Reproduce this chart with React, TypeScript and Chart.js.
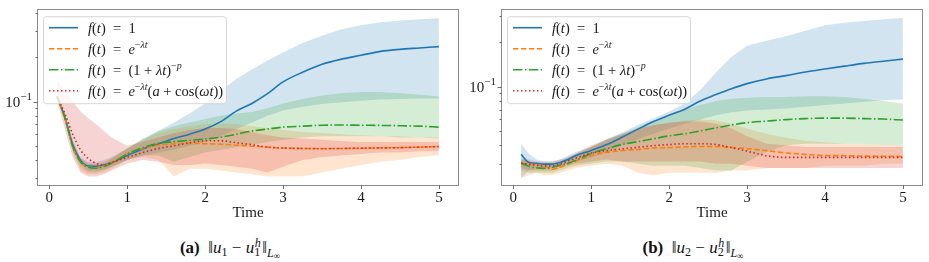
import React, { useEffect, useRef } from "react";
import { Chart, registerables } from "chart.js";

Chart.register(...registerables);

// Sample times shared by every series (both panels)
const TIMES = [0.1, 0.2, 0.3, 0.4, 0.5, 0.6, 0.7, 0.8, 1.0, 1.2, 1.4, 1.6, 1.8, 2.0, 2.2, 2.4, 2.6, 2.8, 3.0, 3.25, 3.5, 3.75, 4.0, 4.25, 4.5, 4.75, 5.0];
const X_TICKS = [0, 1, 2, 3, 4, 5];
const Y_TICKS = [0.03, 0.04, 0.05, 0.06, 0.07, 0.08, 0.09, 0.1, 0.2, 0.3, 0.4];

// (a) ||u1 - u1^h||_Linf : mean and band (lo / hi) per forcing f(t)
const U1_CONST = [0.108, 0.078, 0.051, 0.040, 0.0365, 0.0363, 0.037, 0.0385, 0.043, 0.0475, 0.0515, 0.056, 0.060, 0.065, 0.073, 0.086, 0.097, 0.113, 0.136, 0.158, 0.179, 0.194, 0.206, 0.219, 0.226, 0.231, 0.236];
const U1_CONST_LO = [0.104, 0.074, 0.047, 0.038, 0.034, 0.034, 0.0345, 0.036, 0.040, 0.043, 0.045, 0.047, 0.050, 0.053, 0.058, 0.065, 0.072, 0.080, 0.087, 0.092, 0.096, 0.099, 0.101, 0.103, 0.104, 0.105, 0.105];
const U1_CONST_HI = [0.112, 0.082, 0.055, 0.042, 0.039, 0.039, 0.040, 0.042, 0.048, 0.055, 0.063, 0.072, 0.083, 0.097, 0.118, 0.142, 0.165, 0.19, 0.215, 0.25, 0.28, 0.31, 0.33, 0.345, 0.355, 0.362, 0.368];

const U1_EXP = [0.108, 0.077, 0.049, 0.039, 0.0358, 0.0355, 0.0365, 0.0385, 0.0443, 0.048, 0.0505, 0.0515, 0.052, 0.0517, 0.0513, 0.0505, 0.0497, 0.049, 0.0483, 0.048, 0.048, 0.048, 0.0482, 0.0484, 0.0486, 0.049, 0.0494];
const U1_EXP_LO = [0.104, 0.073, 0.045, 0.034, 0.032, 0.032, 0.033, 0.035, 0.040, 0.042, 0.040, 0.031, 0.035, 0.035, 0.034, 0.033, 0.032, 0.031, 0.031, 0.031, 0.033, 0.035, 0.037, 0.039, 0.040, 0.042, 0.043];
const U1_EXP_HI = [0.112, 0.081, 0.053, 0.041, 0.038, 0.038, 0.039, 0.041, 0.048, 0.055, 0.061, 0.065, 0.068, 0.070, 0.071, 0.070, 0.068, 0.066, 0.064, 0.062, 0.061, 0.060, 0.059, 0.058, 0.058, 0.057, 0.057];

const U1_POLY = [0.108, 0.078, 0.050, 0.039, 0.0358, 0.0352, 0.0362, 0.038, 0.044, 0.0486, 0.052, 0.0533, 0.0545, 0.0556, 0.0572, 0.060, 0.063, 0.065, 0.067, 0.068, 0.069, 0.0692, 0.069, 0.0688, 0.0685, 0.068, 0.067];
const U1_POLY_LO = [0.104, 0.074, 0.046, 0.036, 0.033, 0.033, 0.034, 0.036, 0.040, 0.043, 0.043, 0.039, 0.042, 0.045, 0.047, 0.049, 0.051, 0.053, 0.055, 0.057, 0.058, 0.058, 0.058, 0.058, 0.057, 0.057, 0.056];
const U1_POLY_HI = [0.112, 0.082, 0.054, 0.041, 0.038, 0.037, 0.038, 0.041, 0.048, 0.056, 0.063, 0.068, 0.072, 0.076, 0.080, 0.083, 0.085, 0.090, 0.097, 0.104, 0.110, 0.114, 0.116, 0.116, 0.114, 0.111, 0.108];

const U1_OSC = [0.108, 0.083, 0.060, 0.047, 0.041, 0.038, 0.0372, 0.0385, 0.0417, 0.045, 0.048, 0.050, 0.0525, 0.0541, 0.0541, 0.0525, 0.0509, 0.049, 0.0483, 0.048, 0.0478, 0.048, 0.0482, 0.0484, 0.0486, 0.049, 0.0494];
const U1_OSC_LO = [0.100, 0.065, 0.042, 0.033, 0.031, 0.031, 0.032, 0.034, 0.038, 0.040, 0.039, 0.037, 0.037, 0.038, 0.037, 0.036, 0.035, 0.033, 0.036, 0.040, 0.042, 0.043, 0.044, 0.045, 0.045, 0.046, 0.046];
const U1_OSC_HI = [0.140, 0.120, 0.100, 0.086, 0.077, 0.070, 0.063, 0.057, 0.050, 0.053, 0.057, 0.061, 0.064, 0.066, 0.066, 0.065, 0.062, 0.059, 0.057, 0.056, 0.055, 0.054, 0.053, 0.053, 0.053, 0.053, 0.053];

// (b) ||u2 - u2^h||_Linf
const U2_CONST = [0.0347, 0.0306, 0.0302, 0.0298, 0.0298, 0.0306, 0.032, 0.034, 0.0369, 0.0405, 0.0455, 0.0515, 0.058, 0.064, 0.0703, 0.080, 0.0884, 0.097, 0.105, 0.113, 0.119, 0.126, 0.132, 0.138, 0.144, 0.149, 0.154];
const U2_CONST_LO = [0.024, 0.027, 0.028, 0.028, 0.028, 0.029, 0.030, 0.031, 0.033, 0.036, 0.040, 0.044, 0.048, 0.052, 0.056, 0.060, 0.064, 0.067, 0.069, 0.070, 0.071, 0.073, 0.075, 0.077, 0.079, 0.081, 0.082];
const U2_CONST_HI = [0.041, 0.035, 0.032, 0.031, 0.031, 0.032, 0.034, 0.036, 0.039, 0.044, 0.049, 0.055, 0.061, 0.068, 0.077, 0.095, 0.125, 0.160, 0.190, 0.205, 0.220, 0.240, 0.262, 0.272, 0.280, 0.287, 0.293];

const U2_EXP = [0.0302, 0.0298, 0.0293, 0.0288, 0.0275, 0.0284, 0.0298, 0.0312, 0.0341, 0.0358, 0.0369, 0.0375, 0.0384, 0.0386, 0.039, 0.0393, 0.0393, 0.0386, 0.038, 0.0368, 0.0355, 0.0347, 0.0341, 0.034, 0.0338, 0.0337, 0.0336];
const U2_EXP_LO = [0.024, 0.025, 0.026, 0.025, 0.025, 0.026, 0.027, 0.028, 0.029, 0.030, 0.029, 0.026, 0.025, 0.026, 0.026, 0.026, 0.026, 0.027, 0.027, 0.028, 0.028, 0.028, 0.029, 0.029, 0.029, 0.030, 0.030];
const U2_EXP_HI = [0.032, 0.031, 0.030, 0.030, 0.029, 0.030, 0.032, 0.034, 0.039, 0.043, 0.047, 0.051, 0.055, 0.057, 0.059, 0.060, 0.059, 0.056, 0.052, 0.048, 0.045, 0.043, 0.042, 0.041, 0.041, 0.040, 0.040];

const U2_POLY = [0.0302, 0.0288, 0.0281, 0.0279, 0.0284, 0.0293, 0.0302, 0.0316, 0.0352, 0.038, 0.0405, 0.0424, 0.0443, 0.0464, 0.0479, 0.0501, 0.0525, 0.055, 0.057, 0.0584, 0.0598, 0.0607, 0.0612, 0.0612, 0.0607, 0.0603, 0.0594];
const U2_POLY_LO = [0.027, 0.026, 0.026, 0.026, 0.026, 0.027, 0.028, 0.029, 0.030, 0.031, 0.031, 0.030, 0.029, 0.029, 0.029, 0.028, 0.027, 0.027, 0.031, 0.036, 0.040, 0.041, 0.041, 0.041, 0.041, 0.040, 0.040];
const U2_POLY_HI = [0.033, 0.031, 0.030, 0.030, 0.030, 0.031, 0.033, 0.035, 0.039, 0.044, 0.048, 0.053, 0.059, 0.065, 0.070, 0.075, 0.080, 0.083, 0.084, 0.085, 0.085, 0.086, 0.086, 0.085, 0.083, 0.080, 0.077];

const U2_OSC = [0.0302, 0.0298, 0.0293, 0.029, 0.029, 0.0298, 0.0312, 0.0326, 0.0355, 0.0368, 0.0378, 0.0388, 0.0398, 0.0405, 0.041, 0.041, 0.0405, 0.0386, 0.0365, 0.034, 0.0331, 0.0331, 0.0331, 0.0331, 0.0331, 0.0331, 0.0331];
const U2_OSC_LO = [0.028, 0.027, 0.027, 0.027, 0.027, 0.028, 0.029, 0.030, 0.031, 0.032, 0.031, 0.031, 0.031, 0.031, 0.031, 0.031, 0.030, 0.030, 0.029, 0.028, 0.028, 0.028, 0.028, 0.028, 0.028, 0.028, 0.028];
const U2_OSC_HI = [0.032, 0.032, 0.031, 0.031, 0.031, 0.032, 0.033, 0.035, 0.040, 0.044, 0.048, 0.052, 0.055, 0.057, 0.058, 0.058, 0.056, 0.052, 0.046, 0.041, 0.040, 0.039, 0.039, 0.039, 0.039, 0.039, 0.039];

const COLORS = ["#1f77b4", "#ff7f0e", "#2ca02c", "#d62728"];
const BAND_COLORS = ["rgba(31,119,180,0.2)", "rgba(255,127,14,0.2)", "rgba(44,160,44,0.2)", "rgba(214,39,40,0.2)"];
const DASHES: number[][] = [[], [5.5, 2.4], [9.5, 2.4, 1.5, 2.4], [1.5, 2.5]];

type Seg = { s: string; it?: boolean; up?: boolean };

// Legend entries: f(t) variants, written as math segments
const LEGEND_LABELS: Seg[][] = [
  [{ s: "f", it: true }, { s: "(" }, { s: "t", it: true }, { s: ")  =  1" }],
  [{ s: "f", it: true }, { s: "(" }, { s: "t", it: true }, { s: ")  =  " }, { s: "e", it: true }, { s: "\u2212", up: true }, { s: "\u03bbt", it: true, up: true }],
  [{ s: "f", it: true }, { s: "(" }, { s: "t", it: true }, { s: ")  =  (1 + " }, { s: "\u03bbt", it: true }, { s: ")" }, { s: "\u2212", up: true }, { s: "p", it: true, up: true }],
  [{ s: "f", it: true }, { s: "(" }, { s: "t", it: true }, { s: ")  =  " }, { s: "e", it: true }, { s: "\u2212", up: true }, { s: "\u03bbt", it: true, up: true }, { s: "(" }, { s: "a", it: true }, { s: " + cos(" }, { s: "\u03c9t", it: true }, { s: "))" }],
];

const SERIF = '"Liberation Serif", "DejaVu Serif", serif';
const CANVAS_W = 464;
const CANVAS_H = 232;
const PLOT_BOTTOM = 185;

function segFont(seg: Seg, size: number) {
  const fs = seg.up ? Math.round(size * 0.7) : size;
  return `${seg.it ? "italic " : ""}${fs}px ${SERIF}`;
}

function richWidth(ctx: CanvasRenderingContext2D, segs: Seg[], size: number) {
  let w = 0;
  for (const g of segs) {
    ctx.font = segFont(g, size);
    w += ctx.measureText(g.s).width;
  }
  return w;
}

function drawRich(ctx: CanvasRenderingContext2D, segs: Seg[], x: number, baseline: number, size: number) {
  let cx = x;
  ctx.textBaseline = "alphabetic";
  ctx.textAlign = "left";
  for (const g of segs) {
    ctx.font = segFont(g, size);
    ctx.fillText(g.s, cx, baseline - (g.up ? size * 0.42 : 0));
    cx += ctx.measureText(g.s).width;
  }
}

type Series = { mean: number[]; lo: number[]; hi: number[] };

type PanelProps = { left: number; yMin: number; yMax: number; series: Series[] };

function toPoints(values: number[]) {
  return values.map((y, i) => ({ x: TIMES[i], y }));
}

function ErrorPanel({ left, yMin, yMax, series }: PanelProps) {
  const ref = useRef<HTMLCanvasElement | null>(null);

  useEffect(() => {
    const canvas = ref.current;
    if (!canvas) return;

    const datasets: any[] = [];
    series.forEach((s, k) => {
      datasets.push({
        data: toPoints(s.lo),
        borderWidth: 0,
        pointRadius: 0,
        fill: false,
        tension: 0,
        order: 20 - k,
      });
      datasets.push({
        data: toPoints(s.hi),
        borderWidth: 0,
        pointRadius: 0,
        backgroundColor: BAND_COLORS[k],
        fill: "-1",
        tension: 0,
        order: 20 - k,
      });
    });
    series.forEach((s, k) => {
      datasets.push({
        data: toPoints(s.mean),
        borderColor: COLORS[k],
        borderWidth: 1.6,
        borderDash: DASHES[k],
        borderCapStyle: "butt",
        pointRadius: 0,
        fill: false,
        cubicInterpolationMode: "monotone",
        order: 4 - k,
      });
    });

    const frame = {
      id: "axesFrame",
      afterDatasetsDraw(chart: any) {
        const { ctx, chartArea: a } = chart;
        ctx.save();
        ctx.strokeStyle = "#8a8a8a";
        ctx.lineWidth = 1;
        ctx.strokeRect(Math.round(a.left) - 0.5, Math.round(a.top) - 0.5, Math.round(a.right - a.left) + 1, Math.round(a.bottom - a.top) + 1);
        ctx.restore();
      },
    };

    const tickMarks = {
      id: "tickMarks",
      afterDraw(chart: any) {
        const { ctx, chartArea: a, scales } = chart;
        ctx.save();
        ctx.strokeStyle = "#6e6e6e";
        ctx.lineWidth = 1;
        ctx.beginPath();
        for (const t of scales.x.ticks) {
          const x = Math.round(scales.x.getPixelForValue(t.value)) + 0.5;
          ctx.moveTo(x, a.bottom);
          ctx.lineTo(x, a.bottom + 4);
        }
        for (const t of scales.y.ticks) {
          const y = Math.round(scales.y.getPixelForValue(t.value)) + 0.5;
          const major = Math.abs(Math.log10(t.value) - Math.round(Math.log10(t.value))) < 1e-9;
          ctx.moveTo(a.left - (major ? 4.5 : 2.5), y);
          ctx.lineTo(a.left, y);
        }
        ctx.stroke();

        // decade labels written as 10^k
        ctx.fillStyle = "#222";
        for (const t of scales.y.ticks) {
          const e = Math.log10(t.value);
          if (Math.abs(e - Math.round(e)) > 1e-9) continue;
          const segs: Seg[] = [{ s: "10" }, { s: "\u2212" + Math.abs(Math.round(e)), up: true }];
          const size = 15;
          const w = richWidth(ctx, segs, size);
          const y = scales.y.getPixelForValue(t.value);
          drawRich(ctx, segs, a.left - 6 - w, y + 5, size);
        }
        ctx.restore();
      },
    };

    const mathLegend = {
      id: "mathLegend",
      afterDatasetsDraw(chart: any) {
        const { ctx, chartArea: a } = chart;
        const bx = a.left + 5.5;
        const by = a.top + 6.5;
        ctx.save();
        ctx.beginPath();
        ctx.roundRect(bx, by, 183, 87, 3);
        ctx.fillStyle = "rgba(255,255,255,0.8)";
        ctx.fill();
        ctx.strokeStyle = "rgba(204,204,204,0.8)";
        ctx.lineWidth = 1;
        ctx.stroke();
        LEGEND_LABELS.forEach((label, i) => {
          const cy = by + 11 + i * 21;
          ctx.beginPath();
          ctx.setLineDash(DASHES[i]);
          ctx.lineCap = "butt";
          ctx.strokeStyle = COLORS[i];
          ctx.lineWidth = 1.6;
          ctx.moveTo(bx + 5.5, cy);
          ctx.lineTo(bx + 34.5, cy);
          ctx.stroke();
          ctx.setLineDash([]);
          ctx.fillStyle = "#1a1a1a";
          drawRich(ctx, label, bx + 44.5, cy + 5, 14.5);
        });
        ctx.restore();
      },
    };

    const chart = new Chart(canvas, {
      type: "line",
      data: { datasets },
      plugins: [frame, tickMarks, mathLegend],
      options: {
        animation: false,
        responsive: false,
        devicePixelRatio: 1,
        layout: { padding: { top: 7, right: 6, left: 0, bottom: 0 } },
        plugins: { legend: { display: false }, tooltip: { enabled: false } },
        elements: { point: { radius: 0 } },
        scales: {
          x: {
            type: "linear",
            min: -0.145,
            max: 5.245,
            afterBuildTicks: (s: any) => {
              s.ticks = X_TICKS.map((v) => ({ value: v }));
            },
            afterFit: (s: any) => {
              s.height = CANVAS_H - PLOT_BOTTOM;
            },
            grid: { display: false, drawTicks: false },
            border: { display: false },
            ticks: {
              autoSkip: false,
              maxRotation: 0,
              padding: 4,
              color: "#1a1a1a",
              font: { family: SERIF, size: 15 },
              callback: (v: any) => String(v),
            },
            title: {
              display: true,
              text: "Time",
              color: "#1a1a1a",
              font: { family: SERIF, size: 15 },
              padding: { top: 0, bottom: 10 },
            },
          },
          y: {
            type: "logarithmic",
            min: yMin,
            max: yMax,
            afterBuildTicks: (s: any) => {
              s.ticks = Y_TICKS.filter((v) => v >= yMin && v <= yMax).map((v) => ({ value: v }));
            },
            afterFit: (s: any) => {
              s.width = 38;
            },
            grid: { display: false, drawTicks: false },
            border: { display: false },
            ticks: { autoSkip: false, callback: () => "" },
          },
        },
      } as any,
    });

    return () => chart.destroy();
  }, [yMin, yMax, series]);

  return (
    <canvas
      ref={ref}
      width={CANVAS_W}
      height={CANVAS_H}
      style={{ position: "absolute", left, top: 0, width: CANVAS_W, height: CANVAS_H }}
    />
  );
}

// Small script helper for the subfigure captions
function Script({ children, dy, italic, size = 12 }: { children: React.ReactNode; dy: number; italic?: boolean; size?: number }) {
  return (
    <span style={{ fontSize: size, position: "relative", top: dy, fontStyle: italic ? "italic" : "normal" }}>{children}</span>
  );
}

function Caption({ left, tag, index }: { left: number; tag: string; index: string }) {
  return (
    <div
      style={{
        position: "absolute",
        left,
        top: 236,
        width: 460,
        textAlign: "center",
        fontFamily: SERIF,
        fontSize: 17,
        lineHeight: "22px",
        color: "#111",
        whiteSpace: "nowrap",
      }}
    >
      <b>({tag})</b>
      {"\u2002\u2016"}
      <i>u</i>
      <Script dy={3}>{index}</Script>
      {" \u2212 "}
      <i>u</i>
      <span style={{ display: "inline-block", position: "relative", width: 8, height: 17 }}>
        <span style={{ position: "absolute", left: 0.5, top: 1, fontSize: 12, fontStyle: "italic", lineHeight: "12px" }}>h</span>
        <span style={{ position: "absolute", left: 0, top: 10, fontSize: 12, lineHeight: "12px" }}>{index}</span>
      </span>
      {"\u2016"}
      <Script dy={4} italic>L</Script>
      <Script dy={6} size={9}>{"\u221e"}</Script>
    </div>
  );
}

const SERIES_A: Series[] = [
  { mean: U1_CONST, lo: U1_CONST_LO, hi: U1_CONST_HI },
  { mean: U1_EXP, lo: U1_EXP_LO, hi: U1_EXP_HI },
  { mean: U1_POLY, lo: U1_POLY_LO, hi: U1_POLY_HI },
  { mean: U1_OSC, lo: U1_OSC_LO, hi: U1_OSC_HI },
];
const SERIES_B: Series[] = [
  { mean: U2_CONST, lo: U2_CONST_LO, hi: U2_CONST_HI },
  { mean: U2_EXP, lo: U2_EXP_LO, hi: U2_EXP_HI },
  { mean: U2_POLY, lo: U2_POLY_LO, hi: U2_POLY_HI },
  { mean: U2_OSC, lo: U2_OSC_LO, hi: U2_OSC_HI },
];

export default function App() {
  return (
    <div style={{ position: "fixed", left: 0, top: 0, width: 929, height: 262, background: "#fff", overflow: "hidden" }}>
      <ErrorPanel left={0} yMin={0.0271} yMax={0.417} series={SERIES_A} />
      <ErrorPanel left={464} yMin={0.0215} yMax={0.331} series={SERIES_B} />
      <Caption left={0} tag="a" index="1" />
      <Caption left={463} tag="b" index="2" />
    </div>
  );
}
